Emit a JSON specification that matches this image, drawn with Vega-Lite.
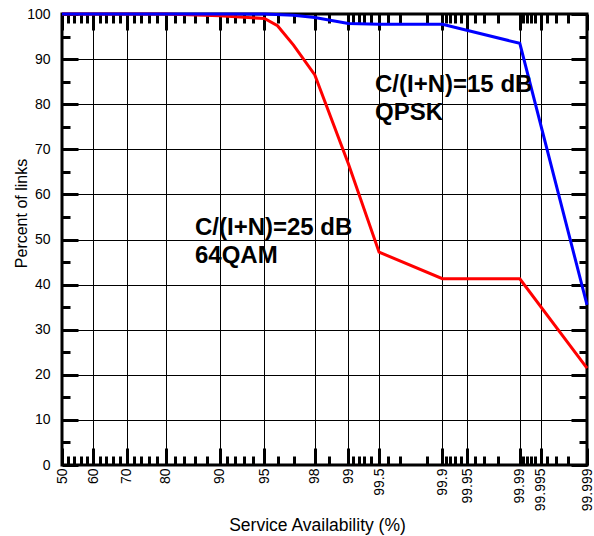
{
  "$schema": "https://vega.github.io/schema/vega-lite/v6.json",
  "width": 525,
  "height": 451,
  "autosize": "none",
  "padding": {"left": 62, "top": 14, "right": 7, "bottom": 71},
  "background": "white",
  "config": {
    "font": "Liberation Sans",
    "view": {"stroke": "black", "strokeWidth": 3},
    "axis": {
      "labelFont": "Liberation Sans",
      "titleFont": "Liberation Sans",
      "labelColor": "black",
      "titleColor": "black",
      "tickColor": "black",
      "gridColor": "black",
      "gridOpacity": 1,
      "gridWidth": 1,
      "domain": false
    }
  },
  "datasets": {
    "lines": [
      {"series": "64QAM", "avail": 50, "pct": 100},
      {"series": "64QAM", "avail": 80, "pct": 100},
      {"series": "64QAM", "avail": 90, "pct": 99.6},
      {"series": "64QAM", "avail": 95, "pct": 99.0},
      {"series": "64QAM", "avail": 96, "pct": 97.4},
      {"series": "64QAM", "avail": 97, "pct": 93.1},
      {"series": "64QAM", "avail": 98, "pct": 86.5},
      {"series": "64QAM", "avail": 99, "pct": 66.8},
      {"series": "64QAM", "avail": 99.5, "pct": 47.2},
      {"series": "64QAM", "avail": 99.9, "pct": 41.3},
      {"series": "64QAM", "avail": 99.99, "pct": 41.3},
      {"series": "64QAM", "avail": 99.999, "pct": 21.5},
      {"series": "QPSK", "avail": 50, "pct": 100},
      {"series": "QPSK", "avail": 95, "pct": 100},
      {"series": "QPSK", "avail": 97, "pct": 99.7},
      {"series": "QPSK", "avail": 98, "pct": 99.2},
      {"series": "QPSK", "avail": 99, "pct": 97.9},
      {"series": "QPSK", "avail": 99.5, "pct": 97.7},
      {"series": "QPSK", "avail": 99.9, "pct": 97.7},
      {"series": "QPSK", "avail": 99.99, "pct": 93.5},
      {"series": "QPSK", "avail": 99.999, "pct": 35.5}
    ],
    "notes": [
      {"avail": 86.0, "pct": 51.0, "label": "C/(I+N)=25 dB\n64QAM"},
      {"avail": 99.45, "pct": 82.7, "label": "C/(I+N)=15 dB\nQPSK"}
    ]
  },
  "data": {"name": "lines"},
  "layer": [
    {
      "transform": [{"calculate": "quantileNormal(datum.avail/100)", "as": "z"}],
      "mark": {"type": "line", "strokeWidth": 3, "clip": false},
      "encoding": {
        "x": {
          "field": "z", "type": "quantitative",
          "scale": {"domain": [0, 4.264891], "nice": false, "zero": false},
          "axis": {
            "orient": "bottom",
            "values": [0, 0.253347, 0.524401, 0.841621, 1.281552, 1.644854, 2.053749, 2.326348, 2.575829, 3.090232, 3.290527, 3.719016, 3.890592, 4.264891],
            "labelExpr": "['50','60','70','80','90','95','98','99','99.5','99.9','99.95','99.99','99.995','99.999'][indexof([0, 0.253347, 0.524401, 0.841621, 1.281552, 1.644854, 2.053749, 2.326348, 2.575829, 3.090232, 3.290527, 3.719016, 3.890592, 4.264891], datum.value)]",
            "ticks": false,
            "grid": true,
            "labelAngle": 270,
            "labelAlign": "right",
            "labelBaseline": "middle",
            "labelPadding": 3,
            "labelFontSize": 14,
            "labelOverlap": false,
            "labelFlush": false,
            "title": "Service Availability (%)",
            "titleFontSize": 17.5,
            "titleFontWeight": "normal",
            "titleX": 255,
            "titleY": 65,
            "titleBaseline": "alphabetic",
            "titleAlign": "center"
          }
        },
        "y": {
          "field": "pct", "type": "quantitative",
          "scale": {"domain": [0, 100], "nice": false, "zero": false},
          "axis": {
            "orient": "left",
            "values": [0, 10, 20, 30, 40, 50, 60, 70, 80, 90, 100],
            "ticks": false,
            "grid": true,
            "labelPadding": 12,
            "labelFontSize": 14,
            "labelOverlap": false,
            "labelFlush": false,
            "title": "Percent of links",
            "titleFontSize": 16,
            "titleFontWeight": "normal",
            "titleAngle": 270,
            "titleX": -36,
            "titleY": 199,
            "titleBaseline": "alphabetic",
            "titleAlign": "center"
          }
        },
        "color": {
          "field": "series", "type": "nominal",
          "scale": {"domain": ["64QAM", "QPSK"], "range": ["#ff0000", "#0000ff"]},
          "legend": null
        }
      }
    },
    {
      "transform": [{"calculate": "quantileNormal(datum.avail/100)", "as": "z"}],
      "mark": {"type": "point", "opacity": 0},
      "encoding": {
        "x": {
          "field": "z", "type": "quantitative",
          "scale": {"domain": [0, 4.264891], "nice": false, "zero": false},
          "axis": {
            "orient": "bottom",
            "values": [0, 0.253347, 0.524401, 0.841621, 1.281552, 1.644854, 2.053749, 2.326348, 2.575829, 3.090232, 3.290527, 3.719016, 3.890592, 4.264891],
            "labels": false, "grid": false, "ticks": true, "tickSize": -17, "tickWidth": 3, "title": null
          }
        },
        "y": {
          "field": "pct", "type": "quantitative",
          "scale": {"domain": [0, 100], "nice": false, "zero": false},
          "axis": {
            "orient": "left",
            "values": [0, 10, 20, 30, 40, 50, 60, 70, 80, 90, 100],
            "labels": false, "grid": false, "ticks": true, "tickSize": -16, "tickWidth": 3, "title": null
          }
        }
      }
    },
    {
      "transform": [{"calculate": "quantileNormal(datum.avail/100)", "as": "z"}],
      "mark": {"type": "point", "opacity": 0},
      "encoding": {
        "x": {
          "field": "z", "type": "quantitative",
          "scale": {"domain": [0, 4.264891], "nice": false, "zero": false},
          "axis": {
            "orient": "bottom",
            "values": [0.050154, 0.100434, 0.150969, 0.201893, 0.305481, 0.358459, 0.412463, 0.467699, 0.582842, 0.643345, 0.706303, 0.772193, 0.915365, 0.994458, 1.080319, 1.174987, 1.340755, 1.405072, 1.475791, 1.554774, 1.750686, 1.880794, 2.17009, 2.365618, 2.408916, 2.457263, 2.512144, 2.65207, 2.747781, 2.967738, 3.121389, 3.155906, 3.194651, 3.23888, 3.352795, 3.431614, 3.540084, 3.746, 3.775, 3.808, 3.846, 3.944, 4.013, 4.107],
            "labels": false, "grid": false, "ticks": true, "tickSize": -9, "tickWidth": 3, "title": null
          }
        },
        "y": {
          "field": "pct", "type": "quantitative",
          "scale": {"domain": [0, 100], "nice": false, "zero": false},
          "axis": {
            "orient": "left",
            "values": [5, 15, 25, 35, 45, 55, 65, 75, 85, 95],
            "labels": false, "grid": false, "ticks": true, "tickSize": -8, "tickWidth": 3, "title": null
          }
        }
      }
    },
    {
      "transform": [{"calculate": "quantileNormal(datum.avail/100)", "as": "z"}],
      "mark": {"type": "point", "opacity": 0},
      "encoding": {
        "x": {
          "field": "z", "type": "quantitative",
          "scale": {"domain": [0, 4.264891], "nice": false, "zero": false},
          "axis": {
            "orient": "top",
            "values": [0, 0.253347, 0.524401, 0.841621, 1.281552, 1.644854, 2.053749, 2.326348, 2.575829, 3.090232, 3.290527, 3.719016, 3.890592, 4.264891],
            "labels": false, "grid": false, "ticks": true, "tickSize": -16, "tickWidth": 3, "title": null
          }
        },
        "y": {
          "field": "pct", "type": "quantitative",
          "scale": {"domain": [0, 100], "nice": false, "zero": false},
          "axis": {
            "orient": "right",
            "values": [0, 10, 20, 30, 40, 50, 60, 70, 80, 90, 100],
            "labels": false, "grid": false, "ticks": true, "tickSize": -16, "tickWidth": 3, "title": null
          }
        }
      }
    },
    {
      "transform": [{"calculate": "quantileNormal(datum.avail/100)", "as": "z"}],
      "mark": {"type": "point", "opacity": 0},
      "encoding": {
        "x": {
          "field": "z", "type": "quantitative",
          "scale": {"domain": [0, 4.264891], "nice": false, "zero": false},
          "axis": {
            "orient": "top",
            "values": [0.050154, 0.100434, 0.150969, 0.201893, 0.305481, 0.358459, 0.412463, 0.467699, 0.582842, 0.643345, 0.706303, 0.772193, 0.915365, 0.994458, 1.080319, 1.174987, 1.340755, 1.405072, 1.475791, 1.554774, 1.750686, 1.880794, 2.17009, 2.365618, 2.408916, 2.457263, 2.512144, 2.65207, 2.747781, 2.967738, 3.121389, 3.155906, 3.194651, 3.23888, 3.352795, 3.431614, 3.540084, 3.746, 3.775, 3.808, 3.846, 3.944, 4.013, 4.107],
            "labels": false, "grid": false, "ticks": true, "tickSize": -9, "tickWidth": 3, "title": null
          }
        },
        "y": {
          "field": "pct", "type": "quantitative",
          "scale": {"domain": [0, 100], "nice": false, "zero": false},
          "axis": {
            "orient": "right",
            "values": [5, 15, 25, 35, 45, 55, 65, 75, 85, 95],
            "labels": false, "grid": false, "ticks": true, "tickSize": -8, "tickWidth": 3, "title": null
          }
        }
      }
    },
    {
      "data": {"name": "notes"},
      "transform": [{"calculate": "quantileNormal(datum.avail/100)", "as": "z"}],
      "mark": {
        "type": "text",
        "align": "left",
        "baseline": "alphabetic",
        "font": "Liberation Sans",
        "fontSize": 24,
        "fontWeight": "bold",
        "lineBreak": "\n",
        "lineHeight": 28,
        "color": "black"
      },
      "encoding": {
        "x": {"field": "z", "type": "quantitative", "scale": {"domain": [0, 4.264891], "nice": false, "zero": false}, "axis": null},
        "y": {"field": "pct", "type": "quantitative", "scale": {"domain": [0, 100], "nice": false, "zero": false}, "axis": null},
        "text": {"field": "label", "type": "nominal"}
      }
    }
  ],
  "resolve": {"axis": {"x": "independent", "y": "independent"}}
}
